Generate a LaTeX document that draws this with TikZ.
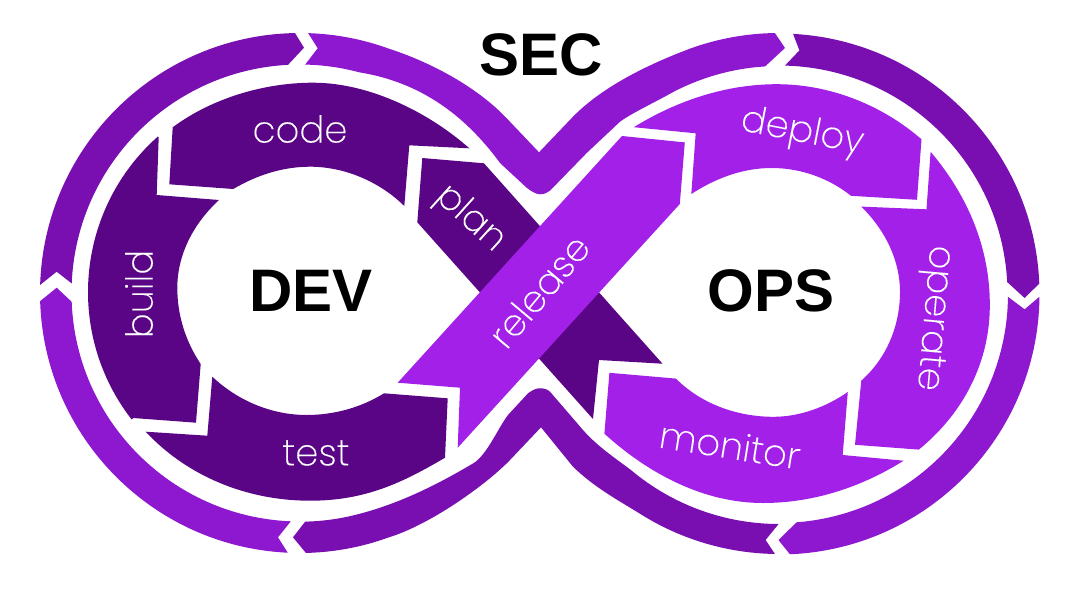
\documentclass[tikz,border=0pt]{standalone}
\usepackage{fontspec}
\setmainfont{Liberation Sans}
\newfontfamily\lblfont[FakeBold=0.1]{Poppins ExtraLight}
\definecolor{ringdark}{HTML}{790EB1}
\definecolor{ringlight}{HTML}{8E18CF}
\definecolor{devcol}{HTML}{5A0586}
\definecolor{opscol}{HTML}{A220E8}
\tikzset{
  big/.style={font=\fontsize{60}{60}\selectfont\bfseries,text=black,inner sep=0pt},
  lbl/.style={font=\lblfont\fontsize{37}{37}\selectfont,text=white,inner sep=0pt},
}
\begin{document}
\begin{tikzpicture}[x=1pt,y=-1pt,line join=miter]
\useasboundingbox (0,0) rectangle (1080,598);
\fill[white] (0,0) rectangle (1080,598);
\coordinate (L) at (300,293);
\coordinate (R) at (779,294);
\coordinate (B) at (296,292);
% outer ring
\fill[ringdark] ([shift={(L)}]178.2:260pt) arc[start angle=178.2,end angle=91.1,radius=260pt] -- (304,47.7)
  -- ([shift={(L)}]93:228.5pt) arc[start angle=93,end angle=177.6,radius=228.5pt] -- (56.7,271.7) -- cycle;
\fill[ringlight] ([shift={(L)}]88.2:260pt) arc[start angle=88.2,end angle=70,radius=260pt]
  .. controls (433,63) and (478,88) .. (506.7,118.3) -- (539,152.3) -- (573,116.7)
  .. controls (605,84) and (654.7,62) .. ([shift={(R)}]110:261pt) arc[start angle=110,end angle=90.9,radius=261pt]
  -- (785,48) -- ([shift={(R)}]93.5:228pt) arc[start angle=93.5,end angle=118,radius=228pt]
  .. controls (654,102.7) and (632,113) .. (620,121.7) -- (586.7,153) -- (550,190.7)
  .. controls (547,193) and (544,194.3) .. (540,194.3) .. controls (536,194.3) and (531,191) .. (527,188)
  -- (500,163) .. controls (465,115) and (420,82) .. ([shift={(L)}]75:228.5pt)
  arc[start angle=75,end angle=88.7,radius=228.5pt] -- (317.7,48.3) -- cycle;
\fill[ringlight] ([shift={(L)}]181.8:260pt) arc[start angle=181.8,end angle=267.3,radius=260pt] -- (278,537.3)
  -- ([shift={(L)}]267.7:228.5pt) arc[start angle=267.7,end angle=182.2,radius=228.5pt] -- (56.7,287.7) -- cycle;
\fill[ringdark] ([shift={(L)}]-88.7:228.7pt) arc[start angle=-88.7,end angle=-75,radius=228.7pt]
  .. controls (405,502) and (445,480) .. (473.3,463.3) .. controls (487,455) and (498,428) .. (508,415) -- (528,393.3)
  .. controls (534,389) and (537,388.3) .. (540,388.3) .. controls (544,388.3) and (547,389) .. (550,391.7)
  -- (583,430) .. controls (597,446) and (615,458) .. ([shift={(R)}]-130:230pt)
  arc[start angle=-130,end angle=-90.1,radius=230pt] -- (765.6,540)
  -- ([shift={(R)}]-90.9:260pt) arc[start angle=-90.9,end angle=-122,radius=260pt]
  .. controls (618,500) and (595,488) .. (573,466.7) -- (541,427.3) -- (510,460)
  .. controls (488,483) and (432,524) .. ([shift={(L)}]-70:260pt)
  arc[start angle=-70,end angle=-88.7,radius=260pt] -- (293,537.3) -- cycle;
\fill[ringdark] ([shift={(R)}]86.9:260.5pt) arc[start angle=86.9,end angle=2.3,radius=260.5pt] -- (1024.6,298)
  -- ([shift={(R)}]3:228.5pt) arc[start angle=3,end angle=88.5,radius=228.5pt] -- (799.4,50.4) -- cycle;
\fill[ringlight] ([shift={(R)}]-0.6:260.5pt) arc[start angle=-0.6,end angle=-87.6,radius=260.5pt] -- (778.5,540)
  -- ([shift={(R)}]-85.6:229pt) arc[start angle=-85.6,end angle=-0.7,radius=229pt] -- (1024.6,309.3) -- cycle;
% dev band
\fill[devcol] (172.7,127.3) .. controls (211.7,98.3) and (264,82.7) .. (313,82.7)
  .. controls (372,82.7) and (432,115) .. (469.3,148.3)
  -- (409.3,145.3) -- (404.3,206) .. controls (380,182) and (345,166.7) .. (310,166.7)
  .. controls (283,166.7) and (257,175) .. (233.3,189)
  -- (169.3,184.3) -- cycle;
\fill[devcol] (158.7,137.3) -- (156.7,195) -- (219,200)
  .. controls (193,224) and (177.3,255) .. (177.3,288) .. controls (177.3,316) and (186,342) .. (200.7,364)
  -- (196,422.7) -- (133.3,418) -- ([shift={(B)}]217.8:208pt) arc[start angle=217.8,end angle=131.6,radius=208pt] -- cycle;
\fill[devcol] (212.3,376.7) -- (207.3,435.7) -- (145.7,431.7)
  .. controls (188,477) and (248,500.7) .. (310,500.7) .. controls (365,500.7) and (402,483) .. (445,457.7)
  -- (447.7,398.3) -- (384,393.3) .. controls (362,407) and (335,415) .. (306.7,415)
  .. controls (272,415) and (238,401) .. (212.3,376.7) -- cycle;
\fill[devcol] (422.3,158) -- (484,163.3) -- (662.5,363.7) -- (599,360) -- (593,419) -- (417.3,222.3) -- cycle;
% ops band
\fill[opscol] (622,136) -- (684.8,142.4) -- (679.8,204) -- (457.7,447.7) -- (460,387.7) -- (397.7,382.7) -- cycle;
\fill[opscol] (695.7,133.3) -- (691.3,194) .. controls (716,178) and (743,168) .. (771.7,168)
  .. controls (802,168) and (830,179) .. (851,195.8)
  -- (917,199.8) -- (921.5,139.3) .. controls (882,105) and (830,84.2) .. (776.8,84.2)
  .. controls (727,84.2) and (678,100) .. (633.8,127.2) -- cycle;
\fill[opscol] (930.6,151.8) -- (926.5,209.3) -- (861.3,206.6)
  .. controls (885,230) and (900,260) .. (900,292) .. controls (900,325) and (887,358) .. (861.3,380.6)
  -- (855,444.8) -- (918.8,449.6) .. controls (965,412) and (990,360) .. (989.8,305)
  .. controls (990,250) and (969,197) .. (930.6,151.8) -- cycle;
\fill[opscol] (609.4,372.8) -- (676,378.6) .. controls (700,403) and (736,416.8) .. (773.4,416.8)
  .. controls (800,416.8) and (826,407) .. (847.8,392)
  -- (842.7,455) -- (903.6,460.7) .. controls (860,488) and (812,503) .. (763,503)
  .. controls (705,503) and (650,475) .. (604.4,433.7) -- cycle;
% labels
\node[big] (sec) at (541,55) {SEC};
\node[big] (dev) at (311,291) {DEV};
\node[big] (ops) at (771,291) {OPS};
\node[lbl] (code) at (300,129) {code};
\node[lbl,rotate=90] (build) at (139,294) {build};
\node[lbl,rotate=-42] (plan) at (470,219) {plan};
\node[lbl] (test) at (316,453) {test};
\node[lbl,rotate=50] (release) at (539,291) {release};
\node[lbl,rotate=-11] (deploy) at (802,133) {deploy};
\node[lbl,rotate=-95] (operate) at (932,318) {operate};
\node[lbl,rotate=-9] (monitor) at (730,445) {monitor};
\end{tikzpicture}
\end{document}
